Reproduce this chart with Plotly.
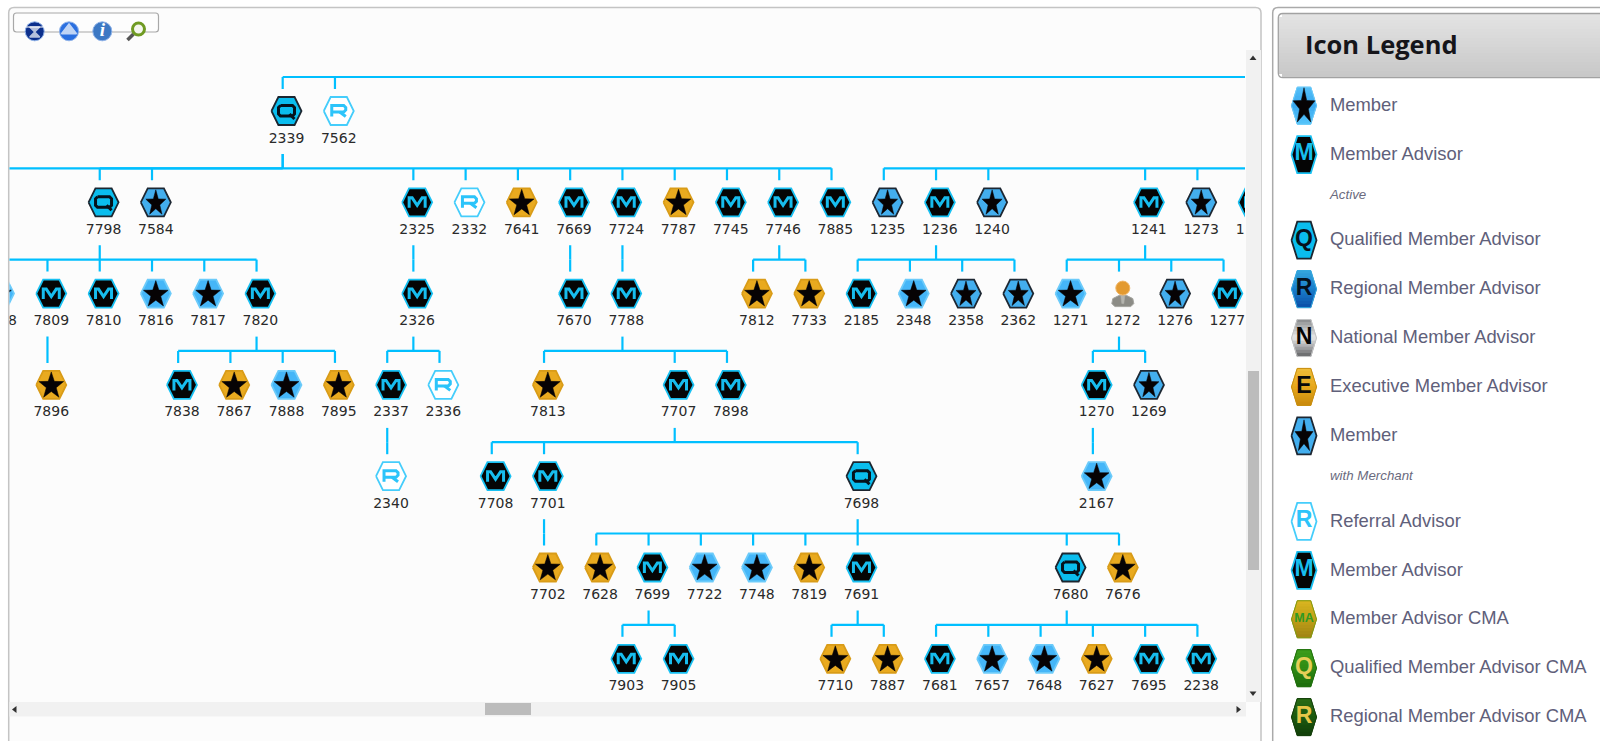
import math
import plotly.graph_objs as go

W, H = 1600, 741
col_px, level_px = 52.27, 91.3

# 트리 노드 (레벨별)
ids_0 = ['2339', '7562']
cols_0 = [5.5, 6.5]
kinds_0 = ['Q', 'R']

ids_1 = ['7798', '7584', '2325', '2332', '7641', '7669', '7724', '7787', '7745', '7746', '7885',
         '1235', '1236', '1240', '1241', '1273', '1274']
cols_1 = [2, 3, 8, 9, 10, 11, 12, 13, 14, 15, 16, 17, 18, 19, 22, 23, 24]
kinds_1 = ['Q', 'S', 'M', 'R', 'G', 'M', 'M', 'G', 'M', 'M', 'M', 'S', 'M', 'S', 'M', 'S', 'M']

ids_2 = ['7808', '7809', '7810', '7816', '7817', '7820', '2326', '7670', '7788', '7812', '7733',
         '2185', '2348', '2358', '2362', '1271', '1272', '1276', '1277']
cols_2 = [0, 1, 2, 3, 4, 5, 8, 11, 12, 14.5, 15.5, 16.5, 17.5, 18.5, 19.5, 20.5, 21.5, 22.5, 23.5]
kinds_2 = ['B', 'M', 'M', 'B', 'B', 'M', 'M', 'M', 'M', 'G', 'G', 'M', 'B', 'S', 'S', 'B', 'P', 'S', 'M']

ids_3 = ['7896', '7838', '7867', '7888', '7895', '2337', '2336', '7813', '7707', '7898', '1270', '1269']
cols_3 = [1, 3.5, 4.5, 5.5, 6.5, 7.5, 8.5, 10.5, 13, 14, 21, 22]
kinds_3 = ['G', 'M', 'G', 'B', 'G', 'M', 'R', 'G', 'M', 'M', 'M', 'S']

ids_4 = ['2340', '7708', '7701', '7698', '2167']
cols_4 = [7.5, 9.5, 10.5, 16.5, 21]
kinds_4 = ['R', 'M', 'M', 'Q', 'B']

ids_5 = ['7702', '7628', '7699', '7722', '7748', '7819', '7691', '7680', '7676']
cols_5 = [10.5, 11.5, 12.5, 13.5, 14.5, 15.5, 16.5, 20.5, 21.5]
kinds_5 = ['G', 'G', 'M', 'B', 'B', 'G', 'M', 'Q', 'G']

ids_6 = ['7903', '7905', '7710', '7887', '7681', '7657', '7648', '7627', '7695', '2238']
cols_6 = [12, 13, 16, 17, 18, 19, 20, 21, 22, 23]
kinds_6 = ['M', 'M', 'G', 'G', 'M', 'B', 'B', 'G', 'M', 'M']

children = {
    '2339': ['7798', '7584', '2325', '2332', '7641', '7669', '7724', '7787', '7745', '7746', '7885'],
    '7798': ['7808', '7809', '7810', '7816', '7817', '7820'],
    '7809': ['7896'],
    '7820': ['7838', '7867', '7888', '7895'],
    '2325': ['2326'],
    '2326': ['2337', '2336'],
    '2337': ['2340'],
    '7669': ['7670'],
    '7724': ['7788'],
    '7788': ['7813', '7707', '7898'],
    '7707': ['7708', '7701', '7698'],
    '7701': ['7702'],
    '7698': ['7628', '7699', '7722', '7748', '7819', '7691', '7680', '7676'],
    '7699': ['7903', '7905'],
    '7691': ['7710', '7887'],
    '7680': ['7681', '7657', '7648', '7627', '7695', '2238'],
    '7746': ['7812', '7733'],
    '1236': ['2185', '2348', '2358', '2362'],
    '1241': ['1271', '1272', '1276', '1277'],
    '1272': ['1270', '1269'],
    '1270': ['2167'],
}
# 화면 밖 노드로 이어지는 선 (부모 열, 부모 레벨, 자식 열)
off_groups = [(30, -1, [5.5, 6.5]), (30, 0, [17, 18, 19, 22, 23, 24]), (5.5, 0, [-2])]

# 범례
legend_labels = ['Member', 'Member Advisor', 'Qualified Member Advisor', 'Regional Member Advisor',
                 'National Member Advisor', 'Executive Member Advisor', 'Member', 'Referral Advisor',
                 'Member Advisor', 'Member Advisor CMA', 'Qualified Member Advisor CMA',
                 'Regional Member Advisor CMA']
legend_rows = [0, 1, 2.75, 3.75, 4.75, 5.75, 6.75, 8.5, 9.5, 10.5, 11.5, 12.5]
legend_kinds = ['B', 'M', 'Q', 'RG', 'N', 'E', 'S', 'R', 'M', 'MA', 'QC', 'RC']
legend_notes = ['Active', 'with Merchant']
legend_note_rows = [1.834, 7.58]

# 색상: 채움, 테두리, 글자, 글자색
styles = {
    'Q': ('#0abdee', '#1c2630', 'Q', '#06121c'),
    'R': ('#ffffff', '#45cdfb', 'R', '#2cc4fa'),
    'M': ('#050505', '#17c0f2', 'M', '#17bdee'),
    'B': ('#45b6f8', '#6ccbfa', '', ''),
    'S': ('#43aeee', '#1d2732', '', ''),
    'G': ('#e9aa1f', '#d99c18', '', ''),
    'RG': ('#0e67b6', '#35a8de', 'R', '#04101e'),
    'N': ('#a9abad', '#c4c5c6', 'N', '#050505'),
    'E': ('#e8a91c', '#c88f12', 'E', '#0a0a0a'),
    'MA': ('#c8a31d', '#7f9a12', 'MA', '#2f9a22'),
    'QC': ('#2f8c14', '#21700e', 'Q', '#e5cf58'),
    'RC': ('#1c5a10', '#143f0b', 'R', '#e6c748'),
}
# 범례 아이콘 세로 그라데이션 (위, 가운데, 아래)
legend_grads = {
    'B': [(84, 192, 248), (58, 168, 240), (84, 196, 250)],
    'RG': [(53, 165, 221), (26, 127, 204), (11, 79, 168)],
    'N': [(135, 137, 139), (235, 235, 235), (100, 101, 103)],
    'E': [(240, 190, 58), (232, 168, 28), (200, 138, 12)],
    'MA': [(218, 182, 32), (192, 160, 24), (160, 132, 18)],
    'QC': [(60, 156, 26), (47, 140, 20), (30, 109, 12)],
    'RC': [(42, 108, 20), (28, 90, 16), (18, 63, 9)],
}
star_kinds = {'B': (13, 14), 'G': (13, 14), 'S': (10.5, 13.5)}
legend_star = {'B': (11.5, 19), 'S': (9.5, 17)}

# 트리 아이콘 글자 모양
glyphs = {
    'M': [[(-8, 5.5), (-8, -4.5), (-5, -4.5), (0, 3), (5, -4.5), (8, -4.5), (8, 5.5)]],
    'Q': [[(-6, -5.5), (6, -5.5), (8, -3.5), (8, 3), (6, 5), (-6, 5), (-8, 3), (-8, -3.5), (-6, -5.5)],
          [(3, 3), (8, 8)]],
    'R': [[(-7, 5.5), (-7, -5.5), (5, -5.5), (7, -3.5), (7, -1), (5, 1), (-7, 1)], [(1, 1), (7, 5.5)]],
}

node_ids = ids_0 + ids_1 + ids_2 + ids_3 + ids_4 + ids_5 + ids_6
node_cols = cols_0 + cols_1 + cols_2 + cols_3 + cols_4 + cols_5 + cols_6
node_kinds = kinds_0 + kinds_1 + kinds_2 + kinds_3 + kinds_4 + kinds_5 + kinds_6
node_levels = [0] * len(ids_0) + [1] * len(ids_1) + [2] * len(ids_2) + [3] * len(ids_3) \
    + [4] * len(ids_4) + [5] * len(ids_5) + [6] * len(ids_6)
col_of = dict(zip(node_ids, node_cols))
level_of = dict(zip(node_ids, node_levels))

hex_shape = [(-1, 0), (-0.54, -1), (0.54, -1), (1, 0), (0.54, 1), (-0.54, 1), (-1, 0)]
star_shape = []
for i in range(11):
    r = 1 if i % 2 == 0 else 0.4
    star_shape.append((r * math.sin(i * math.pi / 5), -r * math.cos(i * math.pi / 5)))

data = []
shapes = []

# 연결선
groups = [(col_of[p], level_of[p], [col_of[c] for c in cs]) for p, cs in children.items()] + off_groups
off = -3.8 / col_px
line_x, line_y = [], []
for p_col, p_level, c_cols in groups:
    bar_y = p_level + 1 - 34 / level_px
    line_x += [p_col + off, p_col + off, None]
    line_y += [p_level + 43 / level_px, bar_y, None]
    line_x += [min(c_cols + [p_col]) + off, max(c_cols + [p_col]) + off, None]
    line_y += [bar_y, bar_y, None]
    for c in c_cols:
        line_x += [c + off, c + off, None]
        line_y += [bar_y, p_level + 1 - 22 / level_px, None]
data.append(go.Scatter(x=line_x, y=line_y, mode='lines', line=dict(color='#00bfff', width=2.2),
                       hoverinfo='skip', xaxis='x2', yaxis='y2'))

# 트리 아이콘
for kind in ['Q', 'R', 'M', 'B', 'S', 'G']:
    xs, ys, sx, sy, gx, gy = [], [], [], [], [], []
    for c, l, k in zip(node_cols, node_levels, node_kinds):
        if k != kind:
            continue
        for a, b in hex_shape:
            xs.append(c + a * 15 / col_px)
            ys.append(l + b * 14 / level_px)
        xs.append(None)
        ys.append(None)
        if kind in star_kinds:
            rx, ry = star_kinds[kind]
            for a, b in star_shape:
                sx.append(c + a * rx / col_px)
                sy.append(l + (b * ry + 1) / level_px)
            sx.append(None)
            sy.append(None)
        if kind in glyphs:
            for part in glyphs[kind]:
                for a, b in part:
                    gx.append(c + a / col_px)
                    gy.append(l + b / level_px)
                gx.append(None)
                gy.append(None)
    fill, edge, letter, letter_color = styles[kind]
    data.append(go.Scatter(x=xs, y=ys, mode='lines', fill='toself', fillcolor=fill,
                           line=dict(color=edge, width=1.8), hoverinfo='skip', xaxis='x2', yaxis='y2'))
    if sx:
        data.append(go.Scatter(x=sx, y=sy, mode='lines', fill='toself', fillcolor='#060304',
                               line=dict(color='#060304', width=0.5), hoverinfo='skip', xaxis='x2', yaxis='y2'))
    if gx:
        data.append(go.Scatter(x=gx, y=gy, mode='lines', line=dict(color=letter_color, width=3),
                               hoverinfo='skip', xaxis='x2', yaxis='y2'))

# 사람 아이콘 (1272)
person_col, person_level = col_of['1272'], level_of['1272']
body = [(-11, 10), (-10, 5), (-4, 2), (4, 2), (10, 5), (11, 10), (8, 13), (-8, 13), (-11, 10)]
tie = [(-2, 2), (2, 2), (1, 10), (-1, 10), (-2, 2)]
data.append(go.Scatter(x=[person_col + a / col_px for a, b in body],
                       y=[person_level + b / level_px for a, b in body],
                       mode='lines', fill='toself', fillcolor='#8c8c86', line=dict(color='#a5a5a0', width=1),
                       hoverinfo='skip', xaxis='x2', yaxis='y2'))
data.append(go.Scatter(x=[person_col + a / col_px for a, b in tie],
                       y=[person_level + b / level_px for a, b in tie],
                       mode='lines', fill='toself', fillcolor='#b4b4ae', line=dict(color='#b4b4ae', width=0.5),
                       hoverinfo='skip', xaxis='x2', yaxis='y2'))
data.append(go.Scatter(x=[person_col], y=[person_level - 5.5 / level_px], mode='markers',
                       marker=dict(symbol='circle', size=14, color='#e39a30', line=dict(color='#f0b566', width=1)),
                       hoverinfo='skip', xaxis='x2', yaxis='y2'))

# 노드 번호
data.append(go.Scatter(x=node_cols, y=[l + 28 / level_px for l in node_levels], mode='text', text=node_ids,
                       textfont=dict(family='DejaVu Sans', size=14, color='#2a2a2a'),
                       hoverinfo='skip', xaxis='x2', yaxis='y2'))

# 범례 아이콘
for label, row, kind in zip(legend_labels, legend_rows, legend_kinds):
    cy = 105.7 + 48.91 * row
    fill, edge, letter, letter_color = styles[kind]
    if kind in legend_grads:
        top, mid, bot = legend_grads[kind]
        strips = 12
        for j in range(strips):
            t0 = -1 + 2 * j / strips
            t1 = -1 + 2 * (j + 1) / strips
            w0 = 1 - 0.46 * abs(t0)
            w1 = 1 - 0.46 * abs(t1)
            tm = (t0 + t1) / 2
            c0, c1 = (top, mid) if tm < 0 else (mid, bot)
            f = tm + 1 if tm < 0 else tm
            rgb = tuple(round(c0[n] + (c1[n] - c0[n]) * f) for n in range(3))
            data.append(go.Scatter(x=[1304 - w0 * 12.5, 1304 + w0 * 12.5, 1304 + w1 * 12.5, 1304 - w1 * 12.5, 1304 - w0 * 12.5],
                                   y=[cy + t0 * 18.5, cy + t0 * 18.5, cy + t1 * 18.5, cy + t1 * 18.5, cy + t0 * 18.5],
                                   mode='lines', fill='toself', fillcolor='rgb(%d,%d,%d)' % rgb,
                                   line=dict(color='rgb(%d,%d,%d)' % rgb, width=1), hoverinfo='skip'))
        data.append(go.Scatter(x=[1304 + a * 12.5 for a, b in hex_shape], y=[cy + b * 18.5 for a, b in hex_shape],
                               mode='lines', line=dict(color=edge, width=1), hoverinfo='skip'))
    else:
        data.append(go.Scatter(x=[1304 + a * 12.5 for a, b in hex_shape], y=[cy + b * 18.5 for a, b in hex_shape],
                               mode='lines', fill='toself', fillcolor=fill, line=dict(color=edge, width=1.8),
                               hoverinfo='skip'))
    if kind in legend_star:
        rx, ry = legend_star[kind]
        data.append(go.Scatter(x=[1304 + a * rx for a, b in star_shape], y=[cy + 1 + b * ry for a, b in star_shape],
                               mode='lines', fill='toself', fillcolor='#060304', line=dict(color='#060304', width=0.5),
                               hoverinfo='skip'))
    if letter:
        data.append(go.Scatter(x=[1304], y=[cy], mode='text', text=[letter],
                               textfont=dict(family='Liberation Sans', size=12.5 if kind == 'MA' else 23,
                                             color=letter_color, weight='bold'), hoverinfo='skip'))

data.append(go.Scatter(x=[1330] * len(legend_labels), y=[106.3 + 48.91 * r for r in legend_rows], mode='text',
                       text=legend_labels, textposition='middle right',
                       textfont=dict(family='Liberation Sans', size=18.4, color='#60607a'), hoverinfo='skip'))
data.append(go.Scatter(x=[1330] * len(legend_notes), y=[106.3 + 48.91 * r for r in legend_note_rows], mode='text',
                       text=legend_notes, textposition='middle right',
                       textfont=dict(family='Liberation Sans', size=13.3, color='#6a6a7e', style='italic'),
                       hoverinfo='skip'))
data.append(go.Scatter(x=[1305], y=[48], mode='text', text=['Icon Legend'], textposition='middle right',
                       textfont=dict(family='Open Sans', size=25.5, color='#15151a', weight='bold'), hoverinfo='skip'))

# 툴바 아이콘
data.append(go.Scatter(x=[34.7, 69, 102.3], y=[31.3, 31.3, 31.3], mode='markers',
                       marker=dict(symbol='circle', size=19, color=['#0c2f8c', '#2a6fe0', '#3c78c4'],
                                   line=dict(color='#8fb2e8', width=1)), hoverinfo='skip'))
data.append(go.Scatter(x=[34.7, 34.7, 69], y=[32, 27, 30.5], mode='markers',
                       marker=dict(symbol=['hourglass', 'line-ew', 'triangle-up'], size=[10, 14, 13], color='#ffffff',
                                   line=dict(color='#ffffff', width=1.5)), hoverinfo='skip'))
data.append(go.Scatter(x=[102.3], y=[31.3], mode='text', text=['i'],
                       textfont=dict(family='Liberation Serif', size=19, color='#ffffff', style='italic', weight='bold'),
                       hoverinfo='skip'))
data.append(go.Scatter(x=[127.5, 133.5], y=[40, 34], mode='lines', line=dict(color='#555555', width=3.5), hoverinfo='skip'))
data.append(go.Scatter(x=[138.5], y=[29], mode='markers',
                       marker=dict(symbol='circle', size=12, color='#f4f6ee', line=dict(color='#6f9a22', width=3)),
                       hoverinfo='skip'))

# 패널
shapes.append(dict(type='path', path='M 8.7 741 V 13 Q 8.7 7.5 14 7.5 H 1255.5 Q 1261 7.5 1261 13 V 741',
                   fillcolor='#fcfcfc', line=dict(color='#c4c4c4', width=1.5), layer='below'))
shapes.append(dict(type='path', path='M 13.5 29 V 16 Q 13.5 13 16.5 13 H 155.5 Q 158.5 13 158.5 16 V 29 Q 158.5 32 155.5 32 H 16.5 Q 13.5 32 13.5 29 Z',
                   fillcolor='#fdfdfd', line=dict(color='#a8a8a8', width=1.2), layer='below'))
shapes.append(dict(type='path', path='M 1272.7 741 V 13 Q 1272.7 7.5 1278 7.5 H 1600',
                   fillcolor='#ffffff', line=dict(color='#aaaaaa', width=1.5), layer='below'))
# 헤더 그라데이션
steps = 21
for i in range(steps):
    g = round(227 - (227 - 200) * i / (steps - 1))
    inset = 3 if i == 0 or i == steps - 1 else 0
    shapes.append(dict(type='rect', x0=1279 + inset, x1=1600, y0=14 + i * 3, y1=14 + (i + 1) * 3,
                       fillcolor='rgb(%d,%d,%d)' % (g, g, g), line=dict(width=0), layer='below'))
shapes.append(dict(type='path', path='M 1600 13.5 H 1283 Q 1278.3 13.5 1278.3 18 V 73 Q 1278.3 77.7 1283 77.7 H 1600',
                   line=dict(color='#a2a2a2', width=1.3), layer='below'))
# 스크롤바
shapes.append(dict(type='rect', x0=1246, x1=1261, y0=50, y1=702, fillcolor='#f1f1f1', line=dict(width=0), layer='below'))
shapes.append(dict(type='rect', x0=9.5, x1=1246, y0=702, y1=716.5, fillcolor='#f1f1f1', line=dict(width=0), layer='below'))
shapes.append(dict(type='rect', x0=1248, x1=1259, y0=371, y1=570, fillcolor='#bcbcbc', line=dict(width=0), layer='below'))
shapes.append(dict(type='rect', x0=485, x1=531, y0=703, y1=715, fillcolor='#bcbcbc', line=dict(width=0), layer='below'))
data.append(go.Scatter(x=[1253, 1253, 15, 1238], y=[58.5, 693, 709.5, 709.5], mode='markers',
                       marker=dict(symbol=['triangle-up', 'triangle-down', 'triangle-left', 'triangle-right'],
                                   size=6, color='#303030'), hoverinfo='skip'))

layout = go.Layout(
    width=W, height=H,
    margin=dict(l=0, r=0, t=0, b=0),
    showlegend=False,
    paper_bgcolor='#ffffff',
    plot_bgcolor='rgba(0,0,0,0)',
    shapes=shapes,
    xaxis=dict(domain=[0, 1], range=[0, W], visible=False),
    yaxis=dict(domain=[0, 1], range=[H, 0], visible=False),
    xaxis2=dict(domain=[9.5 / W, 1245 / W], range=[(9.5 + 1) / col_px, (1245 + 1) / col_px],
                visible=False, anchor='y2'),
    yaxis2=dict(domain=[1 - 702 / H, 1 - 51 / H], range=[(702 - 111) / level_px, (51 - 111) / level_px],
                visible=False, anchor='x2'),
)

fig = go.Figure(data=data, layout=layout)
fig.write_html("out.html", config={'displayModeBar': False},
               post_script="document.body.style.margin='0';document.body.style.overflow='hidden';")
